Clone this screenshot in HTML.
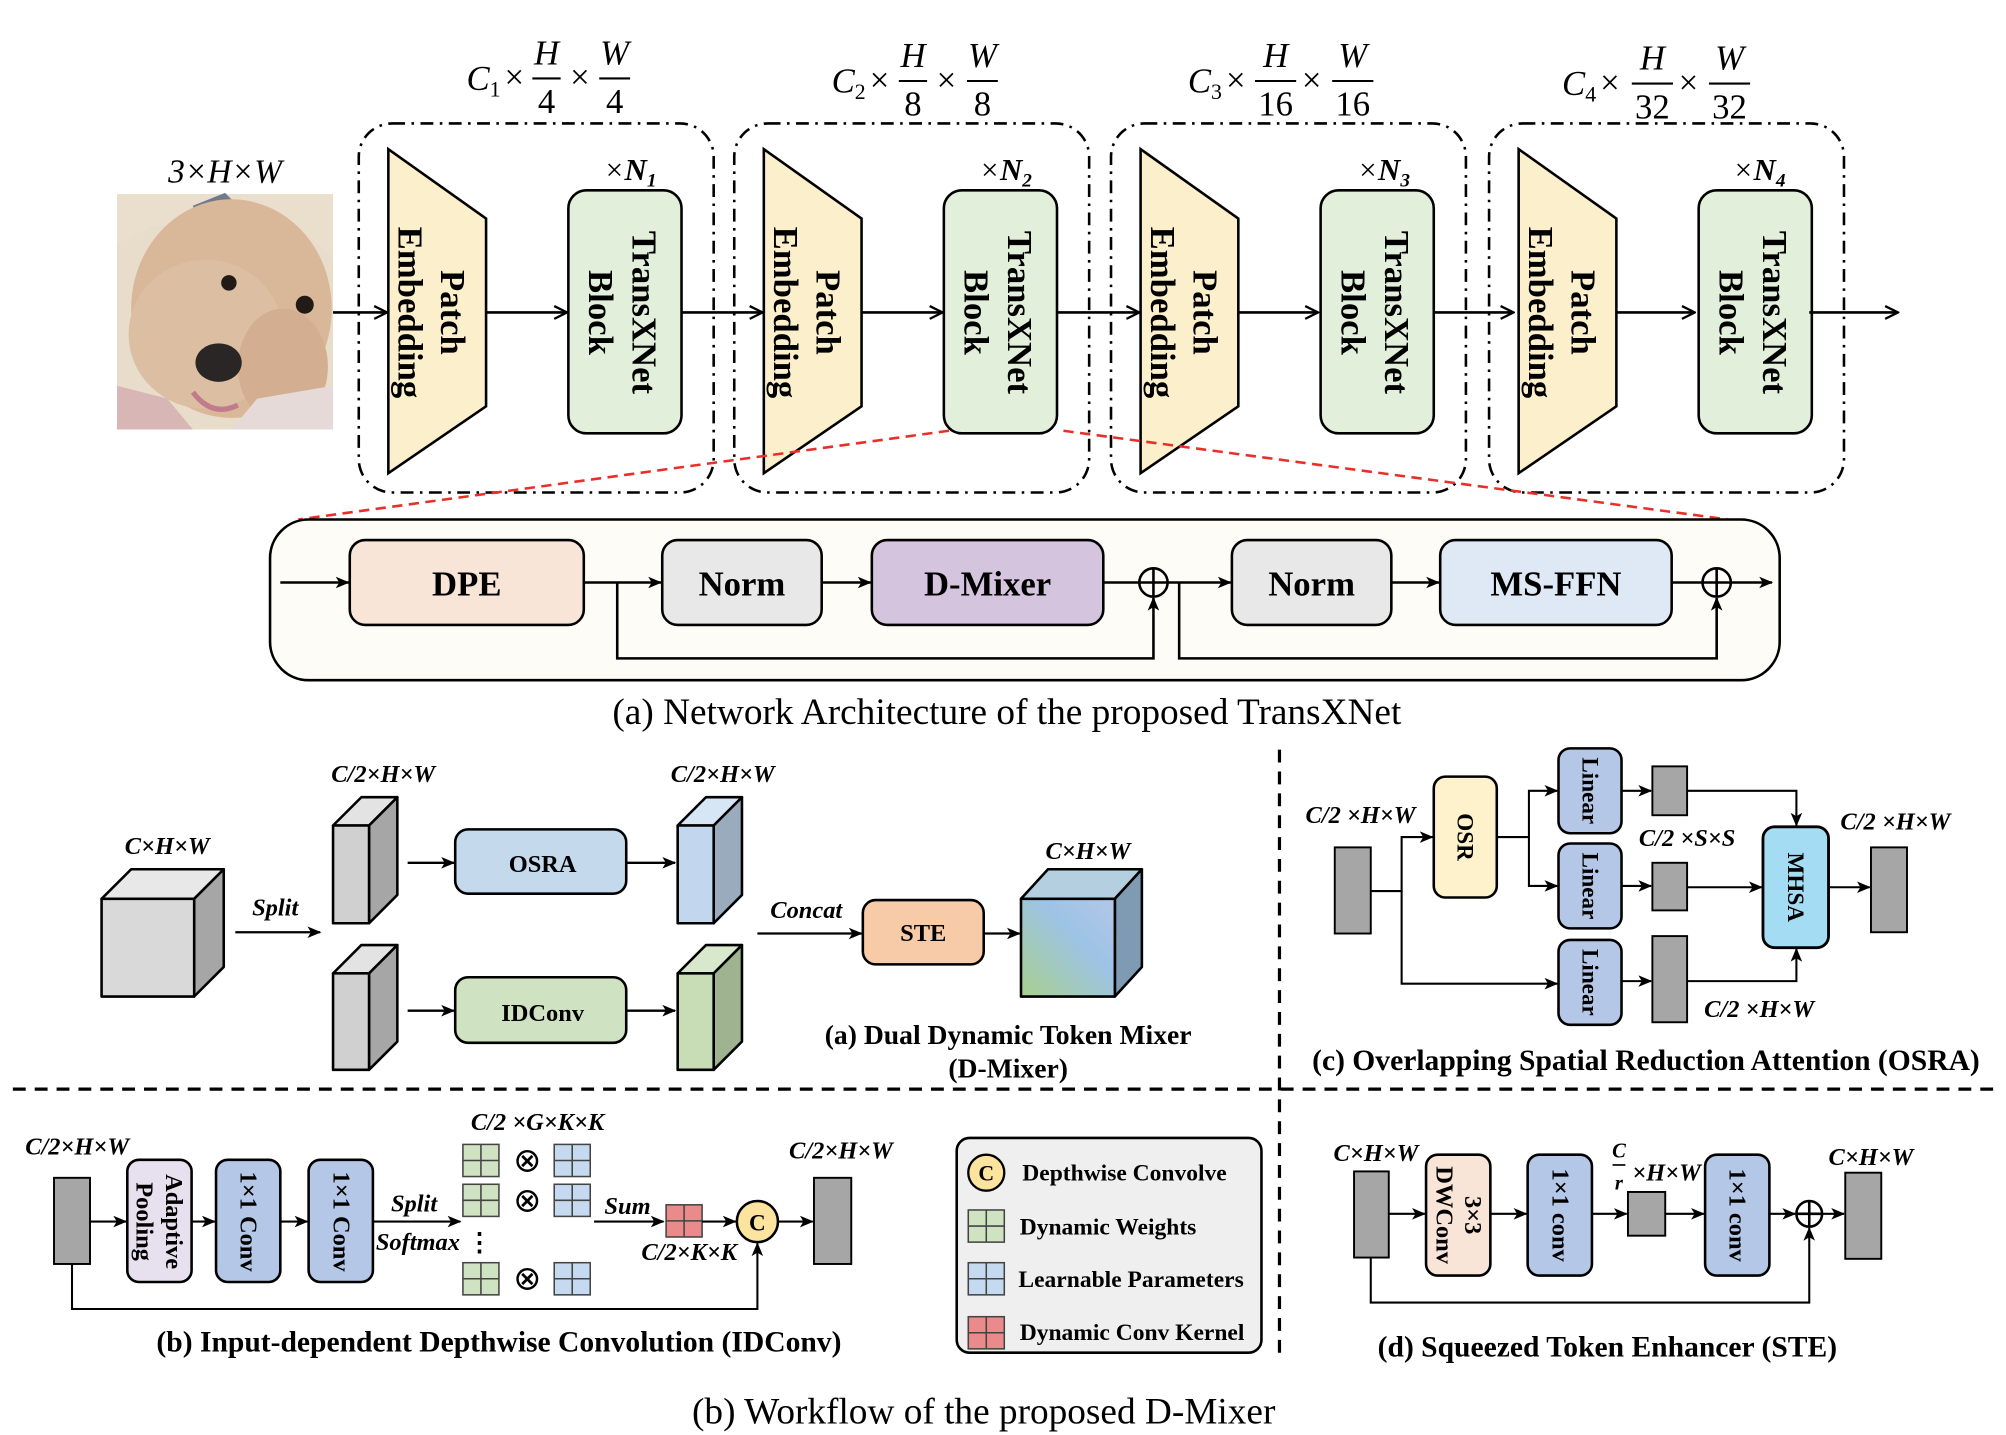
<!DOCTYPE html>
<html><head><meta charset="utf-8"><style>
html,body{margin:0;padding:0;background:#fff;}
svg{display:block;}
text{font-family:"Liberation Serif",serif;}
.b{font-weight:bold;}
.bi{font-weight:bold;font-style:italic;}
.it{font-style:italic;}
</style></head><body>
<svg width="2006" height="1435" viewBox="0 0 1560 1116" preserveAspectRatio="none" xmlns="http://www.w3.org/2000/svg">
<defs>
<marker id="ch" viewBox="0 0 12 12" refX="11" refY="6" markerWidth="12" markerHeight="12" markerUnits="userSpaceOnUse" orient="auto"><path d="M1,1 L11,6 L1,11" fill="none" stroke="#000" stroke-width="1.8"/></marker>
<marker id="ar" viewBox="0 0 12 10" refX="11" refY="5" markerWidth="11" markerHeight="9" markerUnits="userSpaceOnUse" orient="auto"><path d="M0,0 L12,5 L0,10 L3,5z" fill="#000"/></marker>
<linearGradient id="cg" x1="0" y1="1" x2="1" y2="0"><stop offset="0" stop-color="#a8d08d"/><stop offset="0.6" stop-color="#9dc3e6"/><stop offset="1" stop-color="#b4c7e7"/></linearGradient>
<g id="gg"><rect x="0" y="0" width="28" height="25" fill="#cfe2c1" stroke="#444" stroke-width="1.2"/><path d="M14,0V25M0,12.5H28" stroke="#444" stroke-width="1.2"/></g>
<g id="bg"><rect x="0" y="0" width="28" height="25" fill="#c5daf0" stroke="#444" stroke-width="1.2"/><path d="M14,0V25M0,12.5H28" stroke="#444" stroke-width="1.2"/></g>
<g id="rg"><rect x="0" y="0" width="28" height="25" fill="#ea8a8a" stroke="#444" stroke-width="1.2"/><path d="M14,0V25M0,12.5H28" stroke="#444" stroke-width="1.2"/></g>
<g id="stage">
<rect x="0" y="0" width="276" height="287" rx="26" fill="none" stroke="#000" stroke-width="2" stroke-dasharray="10 5 2 5"/>
<path d="M23,20 L99,74 L99,220 L23,272z" fill="#fcf0cc" stroke="#000" stroke-width="2"/>
<rect x="163" y="52" width="88" height="189" rx="14" fill="#e2efda" stroke="#000" stroke-width="2"/>
<text class="b" font-size="27" transform="translate(73,147) rotate(90)" text-anchor="middle" dominant-baseline="central">Patch</text>
<text class="b" font-size="27" transform="translate(40,147) rotate(90)" text-anchor="middle" dominant-baseline="central">Embedding</text>
<text class="b" font-size="27" transform="translate(222,147) rotate(90)" text-anchor="middle" dominant-baseline="central">TransXNet</text>
<text class="b" font-size="27" transform="translate(188,147) rotate(90)" text-anchor="middle" dominant-baseline="central">Block</text>
</g>
</defs>

<!-- dog image -->
<rect x="91" y="151" width="168" height="183" fill="#e8dccb"/>
<path d="M91,151 H259 V200 L230,175 H120 L91,190z" fill="#eadfcc"/>
<path d="M150,160 L175,150 L190,165 L160,195z" fill="#6f7a8c"/>
<ellipse cx="180" cy="240" rx="78" ry="85" fill="#d9b89a"/>
<ellipse cx="160" cy="260" rx="60" ry="58" fill="#dcbfa3"/>
<ellipse cx="220" cy="285" rx="35" ry="45" fill="#d3ae90"/>
<path d="M91,300 L130,310 L150,334 H91z" fill="#d8b6b5"/>
<path d="M200,310 L259,300 V334 H180z" fill="#e6dad8"/>
<circle cx="178" cy="220" r="6" fill="#221a16"/>
<circle cx="237" cy="237" r="7" fill="#221a16"/>
<ellipse cx="170" cy="282" rx="18" ry="15" fill="#2b2626"/>
<path d="M150,305 Q165,325 185,315" fill="none" stroke="#c27b8c" stroke-width="4"/>

<text class="it" font-size="26" x="175" y="142" text-anchor="middle">3×<tspan>H</tspan>×<tspan>W</tspan></text>

<!-- stages -->
<use href="#stage" x="279" y="96"/>
<use href="#stage" x="571" y="96"/>
<use href="#stage" x="864" y="96"/>
<use href="#stage" x="1158" y="96"/>

<g font-size="24" class="it" text-anchor="middle">
<text x="490" y="140">×<tspan class="b">N</tspan><tspan font-size="15" dy="5" class="b">1</tspan></text>
<text x="782" y="140">×<tspan class="b">N</tspan><tspan font-size="15" dy="5" class="b">2</tspan></text>
<text x="1076" y="140">×<tspan class="b">N</tspan><tspan font-size="15" dy="5" class="b">3</tspan></text>
<text x="1368" y="140">×<tspan class="b">N</tspan><tspan font-size="15" dy="5" class="b">4</tspan></text>
</g>

<!-- formulas -->
<g font-size="27" text-anchor="middle">
<text x="376" y="70" class="it">C<tspan font-size="17" dy="5" font-style="normal">1</tspan></text><text x="400" y="69">×</text>
<text x="425" y="50" class="it">H</text><path d="M414,61H436" stroke="#000" stroke-width="1.6"/><text x="425" y="88">4</text>
<text x="451" y="69">×</text>
<text x="478" y="50" class="it">W</text><path d="M466,61H490" stroke="#000" stroke-width="1.6"/><text x="478" y="88">4</text>

<text x="660" y="72" class="it">C<tspan font-size="17" dy="5" font-style="normal">2</tspan></text><text x="684" y="71">×</text>
<text x="710" y="52" class="it">H</text><path d="M699,63H721" stroke="#000" stroke-width="1.6"/><text x="710" y="90">8</text>
<text x="736" y="71">×</text>
<text x="764" y="52" class="it">W</text><path d="M752,63H776" stroke="#000" stroke-width="1.6"/><text x="764" y="90">8</text>

<text x="937" y="72" class="it">C<tspan font-size="17" dy="5" font-style="normal">3</tspan></text><text x="961" y="71">×</text>
<text x="992" y="52" class="it">H</text><path d="M976,63H1008" stroke="#000" stroke-width="1.6"/><text x="992" y="90">16</text>
<text x="1020" y="71">×</text>
<text x="1052" y="52" class="it">W</text><path d="M1036,63H1068" stroke="#000" stroke-width="1.6"/><text x="1052" y="90">16</text>

<text x="1228" y="74" class="it">C<tspan font-size="17" dy="5" font-style="normal">4</tspan></text><text x="1252" y="73">×</text>
<text x="1285" y="54" class="it">H</text><path d="M1269,65H1301" stroke="#000" stroke-width="1.6"/><text x="1285" y="92">32</text>
<text x="1313" y="73">×</text>
<text x="1345" y="54" class="it">W</text><path d="M1329,65H1361" stroke="#000" stroke-width="1.6"/><text x="1345" y="92">32</text>
</g>

<!-- main arrows -->
<g stroke="#000" stroke-width="2" marker-end="url(#ch)">
<path d="M259,243H301"/><path d="M378,243H441"/><path d="M530,243H593"/>
<path d="M670,243H733"/><path d="M822,243H886"/><path d="M963,243H1025"/>
<path d="M1115,243H1177"/><path d="M1257,243H1318"/><path d="M1407,243H1476"/>
</g>

<!-- red dashed -->
<g stroke="#e8302a" stroke-width="2" stroke-dasharray="8 5" fill="none">
<path d="M738,335 L232,404"/><path d="M827,335 L1344,404"/>
</g>

<!-- block detail -->
<rect x="210" y="404" width="1174" height="125" rx="30" fill="#fdfcf6" stroke="#000" stroke-width="2"/>
<g stroke="#000" stroke-width="2">
<rect x="272" y="420" width="182" height="66" rx="12" fill="#f8e5d8"/>
<rect x="515" y="420" width="124" height="66" rx="12" fill="#e8e8e8"/>
<rect x="678" y="420" width="180" height="66" rx="12" fill="#d5c4de"/>
<rect x="958" y="420" width="124" height="66" rx="12" fill="#e8e8e8"/>
<rect x="1120" y="420" width="180" height="66" rx="12" fill="#dfe9f5"/>
<circle cx="897" cy="453" r="11" fill="none"/><path d="M886,453H908M897,442V464"/>
<circle cx="1335" cy="453" r="11" fill="none"/><path d="M1324,453H1346M1335,442V464"/>
</g>
<g stroke="#000" stroke-width="2" fill="none" marker-end="url(#ar)">
<path d="M218,453H271"/><path d="M454,453H514"/><path d="M639,453H677"/>
<path d="M908,453H957"/><path d="M1082,453H1119"/><path d="M1346,453H1378"/>
<path d="M858,453H886" marker-end="none"/><path d="M1300,453H1324" marker-end="none"/>
<path d="M480,453V512H897V465"/><path d="M917,453V512H1335V465"/>
</g>
<g class="b" font-size="27" text-anchor="middle">
<text x="363" y="463">DPE</text><text x="577" y="463">Norm</text><text x="768" y="463">D-Mixer</text>
<text x="1020" y="463">Norm</text><text x="1210" y="463">MS-FFN</text>
</g>
<text x="783" y="563" font-size="29" text-anchor="middle">(a) Network Architecture of the proposed TransXNet</text>

<!-- separators -->
<path d="M995,583V1058" stroke="#000" stroke-width="2.5" stroke-dasharray="10 7"/>
<path d="M10,847H1555" stroke="#000" stroke-width="2.5" stroke-dasharray="10 7"/>

<!-- D-Mixer (a) -->
<g stroke="#000" stroke-width="2" stroke-linejoin="round">
<path d="M79,699 L102,676 H174 L151,699z" fill="#e8e8e8"/>
<path d="M151,699 L174,676 V752 L151,775z" fill="#a6a6a6"/>
<rect x="79" y="699" width="72" height="76" fill="#d9d9d9"/>

<path d="M259,642 L281,620 H309 L287,642z" fill="#e3e3e3"/>
<path d="M287,642 L309,620 V696 L287,718z" fill="#a6a6a6"/>
<rect x="259" y="642" width="28" height="76" fill="#d0d0d0"/>
<path d="M259,757 L281,735 H309 L287,757z" fill="#e3e3e3"/>
<path d="M287,757 L309,735 V810 L287,832z" fill="#a6a6a6"/>
<rect x="259" y="757" width="28" height="75" fill="#d0d0d0"/>

<path d="M527,642 L549,620 H577 L555,642z" fill="#d7e6f4"/>
<path d="M555,642 L577,620 V696 L555,718z" fill="#9aabbd"/>
<rect x="527" y="642" width="28" height="76" fill="#c2d7ed"/>
<path d="M527,757 L549,735 H577 L555,757z" fill="#d8e8cc"/>
<path d="M555,757 L577,735 V810 L555,832z" fill="#a0b391"/>
<rect x="527" y="757" width="28" height="75" fill="#c8ddb6"/>

<path d="M794,699 L815,676 H888 L867,699z" fill="#b4cfe0"/>
<path d="M867,699 L888,676 V752 L867,775z" fill="#7f9bb3"/>
<rect x="794" y="699" width="73" height="76" fill="url(#cg)"/>

<rect x="354" y="645" width="133" height="50" rx="10" fill="#c5d9ec"/>
<rect x="354" y="760" width="133" height="51" rx="10" fill="#cfe2c1"/>
<rect x="671" y="700" width="94" height="50" rx="10" fill="#f7cba8"/>
</g>
<g stroke="#000" stroke-width="1.8" marker-end="url(#ar)">
<path d="M183,725H249"/><path d="M317,671H353"/><path d="M317,786H353"/>
<path d="M487,671H525"/><path d="M487,786H525"/><path d="M589,726H670"/><path d="M765,726H793"/>
</g>
<g class="bi" font-size="19" text-anchor="middle">
<text x="130" y="664">C×H×W</text><text x="214" y="712">Split</text>
<text x="298" y="608">C/2×H×W</text><text x="562" y="608">C/2×H×W</text>
<text x="627" y="714">Concat</text><text x="846" y="668">C×H×W</text>
</g>
<g class="b" font-size="19" text-anchor="middle">
<text x="422" y="678">OSRA</text><text x="422" y="794">IDConv</text><text x="718" y="732">STE</text>
</g>
<g class="b" font-size="21.5" text-anchor="middle">
<text x="784" y="812">(a)  Dual Dynamic Token Mixer</text><text x="784" y="838">(D-Mixer)</text>
</g>

<!-- OSRA (c) -->
<g stroke="#000" stroke-width="1.5">
<rect x="1038" y="659" width="28" height="67" fill="#a6a6a6"/>
<rect x="1115" y="604" width="49" height="94" rx="9" fill="#fdf2cc" stroke-width="2"/>
<rect x="1212" y="582" width="49" height="66" rx="9" fill="#b4c7e7" stroke-width="2"/>
<rect x="1212" y="656" width="49" height="66" rx="9" fill="#b4c7e7" stroke-width="2"/>
<rect x="1212" y="731" width="49" height="66" rx="9" fill="#b4c7e7" stroke-width="2"/>
<rect x="1285" y="596" width="27" height="38" fill="#a6a6a6"/>
<rect x="1285" y="671" width="27" height="37" fill="#a6a6a6"/>
<rect x="1285" y="728" width="27" height="67" fill="#a6a6a6"/>
<rect x="1371" y="643" width="51" height="94" rx="9" fill="#a4dcf4" stroke-width="2.2"/>
<rect x="1455" y="659" width="28" height="66" fill="#a6a6a6"/>
</g>
<g stroke="#000" stroke-width="1.6" fill="none" marker-end="url(#ar)">
<path d="M1066,693H1090V651H1114"/><path d="M1090,693V765H1211"/>
<path d="M1164,651H1189V615H1211"/><path d="M1189,651V689H1211"/>
<path d="M1261,615H1284"/><path d="M1261,689H1284"/><path d="M1261,763H1284"/>
<path d="M1312,615H1397V642"/><path d="M1312,690H1370"/><path d="M1312,763H1397V738"/>
<path d="M1422,690H1454"/>
</g>
<g class="b" font-size="18" text-anchor="middle">
<text transform="translate(1139,651) rotate(90)" dominant-baseline="central">OSR</text>
<text transform="translate(1236,615) rotate(90)" dominant-baseline="central">Linear</text>
<text transform="translate(1236,689) rotate(90)" dominant-baseline="central">Linear</text>
<text transform="translate(1236,764) rotate(90)" dominant-baseline="central">Linear</text>
<text transform="translate(1396,690) rotate(90)" dominant-baseline="central">MHSA</text>
</g>
<g class="bi" font-size="19" text-anchor="middle">
<text x="1058" y="640">C/2 ×H×W</text><text x="1312" y="658">C/2 ×S×S</text>
<text x="1474" y="645">C/2 ×H×W</text><text x="1368" y="791">C/2 ×H×W</text>
</g>
<text class="b" font-size="23" x="1280" y="832" text-anchor="middle">(c) Overlapping Spatial Reduction Attention (OSRA)</text>

<!-- IDConv (b) -->
<g stroke="#000" stroke-width="1.5">
<rect x="42" y="916" width="28" height="67" fill="#a6a6a6"/>
<rect x="99" y="902" width="50" height="95" rx="9" fill="#e6e0ef" stroke-width="2"/>
<rect x="168" y="902" width="50" height="95" rx="9" fill="#b4c7e7" stroke-width="2"/>
<rect x="240" y="902" width="50" height="95" rx="9" fill="#b4c7e7" stroke-width="2"/>
<rect x="633" y="916" width="29" height="67" fill="#a6a6a6"/>
<circle cx="589" cy="950" r="16" fill="#fce49e" stroke-width="2"/>
</g>
<use href="#gg" x="360" y="890"/><use href="#bg" x="431" y="890"/>
<use href="#gg" x="360" y="921"/><use href="#bg" x="431" y="921"/>
<use href="#gg" x="360" y="982"/><use href="#bg" x="431" y="982"/>
<use href="#rg" x="518" y="937"/>
<g font-size="26" text-anchor="middle"><text x="410" y="911">⊗</text><text x="410" y="942">⊗</text><text x="410" y="1003">⊗</text></g>
<text x="373" y="973" font-size="20" text-anchor="middle" class="b">⋮</text>
<g stroke="#000" stroke-width="1.6" fill="none" marker-end="url(#ar)">
<path d="M70,950H98"/><path d="M149,950H167"/><path d="M218,950H239"/><path d="M290,950H358"/>
<path d="M462,950H516"/><path d="M546,950H572"/><path d="M605,950H632"/>
<path d="M56,983V1018H589V967"/>
</g>
<g class="b" font-size="19" text-anchor="middle">
<text transform="translate(135,950) rotate(90)" dominant-baseline="central">Adaptive</text>
<text transform="translate(112,950) rotate(90)" dominant-baseline="central">Pooling</text>
<text transform="translate(193,950) rotate(90)" dominant-baseline="central">1×1 Conv</text>
<text transform="translate(265,950) rotate(90)" dominant-baseline="central">1×1 Conv</text>
<text x="589" y="957" font-size="18">C</text>
</g>
<g class="bi" font-size="19" text-anchor="middle">
<text x="60" y="898">C/2×H×W</text><text x="322" y="942">Split</text><text x="325" y="972">Softmax</text>
<text x="418" y="879">C/2 ×G×K×K</text><text x="488" y="944">Sum</text><text x="536" y="980">C/2×K×K</text>
<text x="654" y="901">C/2×H×W</text>
</g>
<text class="b" font-size="23" x="388" y="1051" text-anchor="middle">(b) Input-dependent Depthwise Convolution (IDConv)</text>

<!-- legend -->
<rect x="744" y="885" width="237" height="167" rx="10" fill="#efefef" stroke="#000" stroke-width="2"/>
<circle cx="767" cy="912" r="14" fill="#fce49e" stroke="#000" stroke-width="1.8"/>
<text class="b" x="767" y="918" font-size="17" text-anchor="middle">C</text>
<use href="#gg" x="753" y="941"/><use href="#bg" x="753" y="982"/><use href="#rg" x="753" y="1024"/>
<g class="b" font-size="18.3">
<text x="795" y="918">Depthwise Convolve</text><text x="793" y="960">Dynamic Weights</text>
<text x="792" y="1001">Learnable Parameters</text><text x="793" y="1042">Dynamic Conv Kernel</text>
</g>

<!-- STE (d) -->
<g stroke="#000" stroke-width="1.5">
<rect x="1053" y="911" width="27" height="67" fill="#a6a6a6"/>
<rect x="1109" y="898" width="50" height="94" rx="9" fill="#f8e5d8" stroke-width="2"/>
<rect x="1188" y="898" width="50" height="94" rx="9" fill="#b4c7e7" stroke-width="2"/>
<rect x="1266" y="927" width="29" height="34" fill="#a6a6a6"/>
<rect x="1326" y="898" width="50" height="94" rx="9" fill="#b4c7e7" stroke-width="2"/>
<rect x="1435" y="912" width="28" height="67" fill="#a6a6a6"/>
<circle cx="1407" cy="944" r="10" fill="none" stroke-width="2"/><path d="M1397,944H1417M1407,934V954" stroke-width="2"/>
</g>
<g stroke="#000" stroke-width="1.6" fill="none" marker-end="url(#ar)">
<path d="M1080,944H1108"/><path d="M1159,944H1187"/><path d="M1238,944H1265"/><path d="M1295,944H1325"/>
<path d="M1376,944H1396"/><path d="M1417,944H1434"/><path d="M1066,978V1013H1407V955"/>
</g>
<g class="b" font-size="19" text-anchor="middle">
<text transform="translate(1145,945) rotate(90)" dominant-baseline="central">3×3</text>
<text transform="translate(1123,945) rotate(90)" dominant-baseline="central">DWConv</text>
<text transform="translate(1213,945) rotate(90)" dominant-baseline="central">1×1 conv</text>
<text transform="translate(1351,945) rotate(90)" dominant-baseline="central">1×1 conv</text>
</g>
<g class="bi" font-size="19" text-anchor="middle">
<text x="1070" y="903">C×H×W</text><text x="1455" y="906">C×H×W</text>
<text x="1259" y="900" font-size="16">C</text><path d="M1254,906H1264" stroke="#000" stroke-width="1.3"/><text x="1259" y="925" font-size="16">r</text>
<text x="1296" y="918">×H×W</text>
</g>
<text class="b" font-size="23" x="1250" y="1055" text-anchor="middle">(d) Squeezed Token Enhancer (STE)</text>

<text x="765" y="1107" font-size="29" text-anchor="middle">(b) Workflow of the proposed D-Mixer</text>
</svg>
</body></html>
